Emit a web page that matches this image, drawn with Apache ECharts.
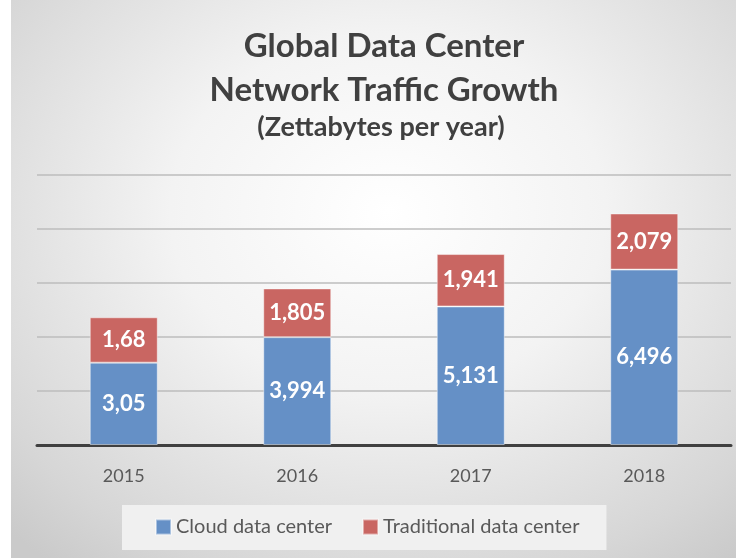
<!DOCTYPE html>
<html>
<head>
<meta charset="utf-8">
<script src="https://cdn.jsdelivr.net/npm/echarts@6/dist/echarts.min.js"></script>
<style>
  html, body { margin: 0; padding: 0; background: #fff; }
  #wrap {
    position: absolute; left: 11px; top: 0; width: 725px; height: 558px;
    background: radial-gradient(ellipse 75% 80% at 52% 38%, #ffffff 0%, #f3f3f3 40%, #d6d6d6 85%, #cacaca 100%);
  }
  #chart { position: absolute; left: 0; top: 0; width: 736px; height: 558px; }
</style>
</head>
<body>
<div id="wrap"></div>
<div id="chart"></div>
<script>
// Global data center traffic, zettabytes per year
var years = ["2015", "2016", "2017", "2018"];
var cloudData = [3.05, 3.994, 5.131, 6.496];
var traditionalData = [1.68, 1.805, 1.941, 2.079];

var chart = echarts.init(document.getElementById("chart"));

function commaLabel(p) {
  return String(p.value).replace(".", ",");
}

var option = {
  backgroundColor: "transparent",
  textStyle: { fontFamily: "Lato" },
  title: [
    {
      text: "Global Data Center\nNetwork Traffic Growth",
      left: 379,
      top: 19,
      textAlign: "center",
      textStyle: { fontSize: 33, fontWeight: "bold", color: "#404040", lineHeight: 44, fontFamily: "Lato" }
    },
    {
      text: "(Zettabytes per year)",
      left: 376,
      top: 109,
      textAlign: "center",
      textStyle: { fontSize: 27, fontWeight: "bold", color: "#404040", fontFamily: "Lato" }
    }
  ],
  grid: { left: 37, right: 5, top: 175, bottom: 113 },
  legend: {
    data: ["Cloud data center", "Traditional data center"],
    left: 122,
    top: 505,
    backgroundColor: "#f0f0f0",
    padding: [12, 27, 13, 33],
    itemWidth: 15,
    itemHeight: 15,
    itemGap: 30,
    icon: "rect",
    textStyle: { fontSize: 20, color: "#595959", fontFamily: "Lato" }
  },
  xAxis: {
    type: "category",
    data: years,
    axisLine: { lineStyle: { color: "#404040", width: 3 } },
    axisTick: { show: false },
    axisLabel: { fontSize: 18, color: "#595959", margin: 22 }
  },
  yAxis: {
    type: "value",
    min: 0,
    max: 10,
    interval: 2,
    axisLabel: { show: false },
    axisLine: { show: false },
    splitLine: { lineStyle: { color: "#bdbdbd", width: 1.5 } }
  },
  series: [
    {
      name: "Cloud data center",
      type: "bar",
      stack: "total",
      barWidth: 68,
      data: cloudData,
      itemStyle: { color: "#6590c6", borderColor: "rgba(255,255,255,0.45)", borderWidth: 1 },
      label: { show: true, position: "inside", formatter: commaLabel, color: "#fff", fontSize: 22, fontWeight: "bold" }
    },
    {
      name: "Traditional data center",
      type: "bar",
      stack: "total",
      barWidth: 68,
      data: traditionalData,
      itemStyle: { color: "#c96662", borderColor: "rgba(255,255,255,0.45)", borderWidth: 1 },
      label: { show: true, position: "inside", formatter: commaLabel, color: "#fff", fontSize: 22, fontWeight: "bold" }
    }
  ]
};

chart.setOption(option);
</script>
</body>
</html>
